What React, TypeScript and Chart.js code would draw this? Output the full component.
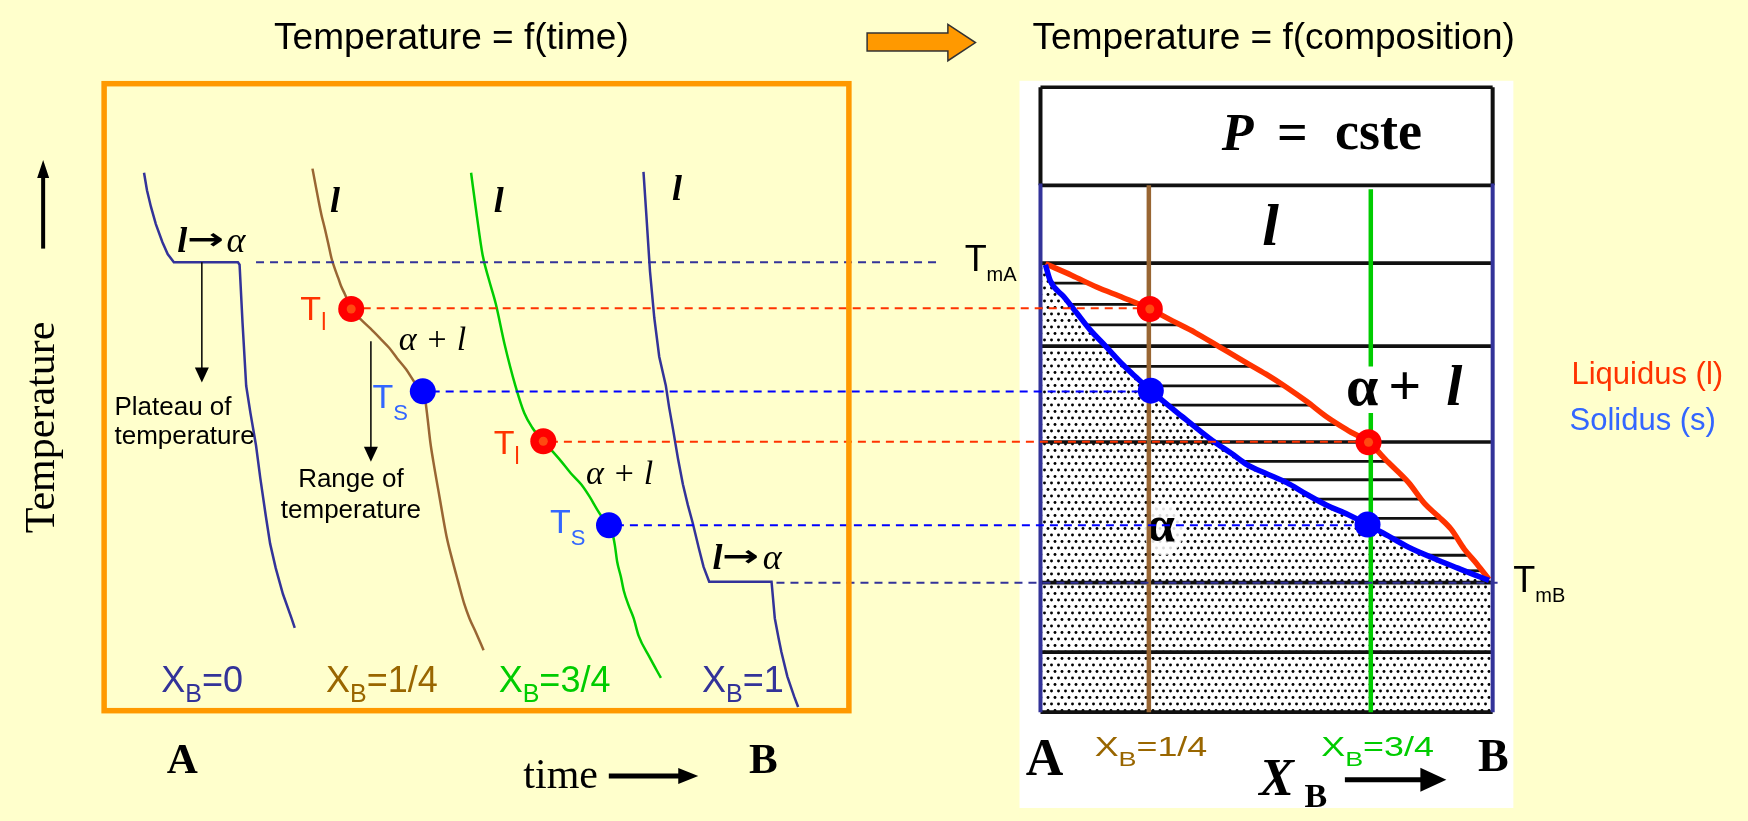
import React, { useEffect, useRef } from "react";
import { Chart, registerables } from "chart.js";

Chart.register(...registerables);

// ---------- DATA (drawing units: x = 0..1748, y = 0..821 downward) ----------
// Cooling curves, temperature = f(time)
const curveXB0_x = [133, 136, 140, 145, 151.7, 157, 163.3, 228.3, 230, 233, 236.7, 241, 246.7, 251, 256.7, 261, 266.7, 274, 282.7, 286];
const curveXB0_y = [165, 183, 200, 218, 236.7, 249, 257.3, 257.3, 260, 320, 385, 413, 446.7, 480, 520, 548, 573.3, 600, 625, 635];

const curveXB14_x = [304, 307, 310, 313, 316.7, 320, 323.3, 327, 330, 333, 336.7, 340, 343.3, 353.3, 363, 373.3, 382, 390, 399, 406.7, 411, 416, 418.3, 421, 423.6, 426.7, 433, 440, 446, 451.7, 458, 463.3, 470, 477.7];
const curveXB14_y = [160.7, 177, 193, 208, 223.3, 238, 253.3, 265, 273.3, 282, 290, 298, 305.7, 316.7, 326, 336.7, 346, 356.7, 368, 380, 386, 390.7, 398.3, 420, 443, 463.3, 500, 540, 565, 586.7, 610, 625, 640, 658];

const curveXB34_x = [465, 470.5, 476.7, 483, 490, 499, 510, 519, 527, 538.3, 547, 556.7, 566, 576.7, 585, 593.3, 599, 605, 608.3, 611, 613.3, 617, 620, 625, 630, 635, 646, 657.7];
const curveXB34_y = [165, 207, 250, 275, 300, 342, 385, 413, 428, 442.3, 452, 463.3, 475, 486.7, 499, 513.3, 522, 529, 536.7, 550, 566.7, 582, 596.7, 612, 625, 643, 665, 686.7];

const curveXB1_x = [640, 643, 646.6, 651, 656, 662.7, 666, 670, 675, 680, 685, 690, 696, 701, 706.7, 770, 773.3, 777, 780, 786, 793, 797];
const curveXB1_y = [164, 210, 266.7, 315, 355, 385, 407, 430, 460, 486.7, 508, 526.7, 552, 572, 587.3, 587.3, 625, 645, 660, 685, 706, 716.7];

// Phase diagram, temperature = f(composition)
const liquidus_x = [1048, 1075, 1100, 1127, 1154, 1177, 1200, 1225, 1250, 1272, 1293, 1313, 1333, 1355, 1376, 1396, 1416.7, 1433, 1447, 1460, 1473, 1486, 1498.3];
const liquidus_y = [259, 271, 283, 294, 305.7, 318, 330, 345, 360, 373, 386.7, 401, 416.7, 431, 443.3, 464, 485, 506.7, 520, 533.3, 553.3, 569, 585];

const solidus_x = [1048, 1053, 1066.7, 1080, 1093, 1110, 1126.7, 1141, 1155, 1170, 1186.7, 1203, 1220, 1237, 1253, 1273, 1293, 1313, 1333, 1355, 1375, 1396, 1416.7, 1442, 1466.7, 1483, 1498.3];
const solidus_y = [260, 276.7, 293, 310, 326.7, 345, 363.3, 377, 390, 403, 416.7, 430, 443.3, 455, 466.7, 476, 485, 497, 508, 518, 528.3, 540, 551.7, 563, 573.3, 580, 586];

// Transition points (T_l, T_s) on the cooling curves and on the phase diagram
const coolDots_x = [343.3, 416, 538.3, 605];
const coolDots_y = [305.7, 390.7, 442.3, 529];
const diagDots_x = [1154, 1155, 1376, 1375];
const diagDots_y = [305.7, 390, 443.3, 528.3];
const dotKind = ["l", "s", "l", "s"];

// Horizontal guide (dashed) lines linking the two panels
const guide_y = [257.3, 305, 391, 442.7, 529, 588.3];
const guide_x0 = [246.7, 355, 425, 545, 612, 775];
const guide_x1 = [940, 1154, 1155, 1376, 1375, 1507];
const guideKind = ["m", "l", "s", "l", "s", "m"];

// Phase-diagram frame
const frameRows_y = [76.7, 178, 258.3, 344, 443, 588.3, 660, 722];
const frame_x = [1043, 1502];
const tieLines_y = [279, 301, 322, 365, 385, 405, 425, 463, 482, 502, 522, 542, 560, 576];
const compLine_x = [1153, 1378.3];

// ---------- helpers ----------
const NAVY = "#333399";
const BROWN = "#996633";
const GREEN = "#00CC00";
const OCHRE = "#996600";
const RED = "#FF0000";
const REDOR = "#FF3300";
const BLUE = "#0000FF";
const LBLUE = "#3366FF";
const SANS = "'Liberation Sans', Arial, sans-serif";
const SERIF = "'Liberation Serif', 'Times New Roman', serif";

function pts(xs: number[], ys: number[]) {
  return xs.map((x, i) => ({ x, y: ys[i] }));
}

function interpX(xs: number[], ys: number[], y: number) {
  for (let i = 0; i < ys.length - 1; i++) {
    if (ys[i] <= y && y <= ys[i + 1]) {
      return xs[i] + ((xs[i + 1] - xs[i]) * (y - ys[i])) / (ys[i + 1] - ys[i] || 1);
    }
  }
  return xs[xs.length - 1];
}

function lineDs(data: { x: number; y: number }[], color: string, width: number, order: number, extra: any = {}) {
  return {
    data,
    showLine: true,
    borderColor: color,
    backgroundColor: color,
    borderWidth: width,
    pointRadius: 0,
    pointHoverRadius: 0,
    fill: false,
    tension: 0,
    order,
    ...extra,
  };
}

function makeStipple(): CanvasPattern | string {
  const c = document.createElement("canvas");
  c.width = 7;
  c.height = 13;
  const g = c.getContext("2d");
  if (!g) return "#cccccc";
  g.fillStyle = "#ffffff";
  g.fillRect(0, 0, 7, 13);
  g.fillStyle = "#000000";
  [
    [1.5, 2],
    [5, 8.5],
  ].forEach(([x, y]) => {
    g.beginPath();
    g.arc(x, y, 1.45, 0, Math.PI * 2);
    g.fill();
  });
  return g.createPattern(c, "repeat") || "#cccccc";
}

function txt(ctx: CanvasRenderingContext2D, s: string, x: number, y: number, font: string, color: string, align: CanvasTextAlign = "left", sx = 1) {
  ctx.save();
  ctx.font = font;
  ctx.fillStyle = color;
  ctx.textAlign = align;
  ctx.textBaseline = "alphabetic";
  ctx.translate(x, y);
  ctx.scale(sx, 1);
  ctx.fillText(s, 0, 0);
  ctx.restore();
}

function fitTxt(ctx: CanvasRenderingContext2D, s: string, x: number, y: number, font: string, color: string, width: number) {
  ctx.save();
  ctx.font = font;
  const w = ctx.measureText(s).width || 1;
  ctx.restore();
  txt(ctx, s, x, y, font, color, "left", width / w);
}

function run(ctx: CanvasRenderingContext2D, x: number, y: number, parts: [string, string, number][], color: string, sx = 1) {
  let cx = x;
  for (const [s, f, dy] of parts) {
    txt(ctx, s, cx, y + dy, f, color, "left", sx);
    ctx.save();
    ctx.font = f;
    cx += ctx.measureText(s).width * sx;
    ctx.restore();
  }
}

function arrow(ctx: CanvasRenderingContext2D, x0: number, y0: number, x1: number, y1: number, width: number, headLen: number, headHalf: number, color: string) {
  const ang = Math.atan2(y1 - y0, x1 - x0);
  const bx = x1 - Math.cos(ang) * headLen;
  const by = y1 - Math.sin(ang) * headLen;
  ctx.save();
  ctx.strokeStyle = color;
  ctx.fillStyle = color;
  ctx.lineWidth = width;
  ctx.beginPath();
  ctx.moveTo(x0, y0);
  ctx.lineTo(bx + Math.cos(ang) * 2, by + Math.sin(ang) * 2);
  ctx.stroke();
  ctx.beginPath();
  ctx.moveTo(x1, y1);
  ctx.lineTo(bx - Math.sin(ang) * headHalf, by + Math.cos(ang) * headHalf);
  ctx.lineTo(bx + Math.sin(ang) * headHalf, by - Math.cos(ang) * headHalf);
  ctx.closePath();
  ctx.fill();
  ctx.restore();
}

const decorPlugin = {
  id: "decor",
  beforeDraw(chart: any) {
    const ctx = chart.ctx as CanvasRenderingContext2D;
    ctx.save();
    ctx.fillStyle = "#FFFFCC";
    ctx.fillRect(0, 0, chart.width, chart.height);
    ctx.restore();
  },
  beforeDatasetsDraw(chart: any) {
    const ctx = chart.ctx as CanvasRenderingContext2D;
    const X = (v: number) => chart.scales.x.getPixelForValue(v);
    const Y = (v: number) => chart.scales.y.getPixelForValue(v);
    // white background of the phase-diagram figure
    ctx.save();
    ctx.fillStyle = "#FFFFFF";
    ctx.fillRect(X(1021.7), Y(70), X(1523) - X(1021.7), Y(821) - Y(70));
    ctx.restore();
  },
  afterDatasetDraw(chart: any, args: any) {
    // right after the stippled alpha region: clear patch and its "alpha" label
    if (args.index !== 0) return;
    const ctx = chart.ctx as CanvasRenderingContext2D;
    const X = (v: number) => chart.scales.x.getPixelForValue(v);
    const Y = (v: number) => chart.scales.y.getPixelForValue(v);
    ctx.save();
    ctx.fillStyle = "rgba(255,255,255,0.85)";
    ctx.beginPath();
    ctx.ellipse(X(1168), Y(534), 20, 25, 0, 0, Math.PI * 2);
    ctx.fill();
    ctx.restore();
    txt(ctx, "\u03B1", X(1151), Y(545), `bold 50px ${SERIF}`, "#000");
  },
  afterDatasetsDraw(chart: any) {
    const ctx = chart.ctx as CanvasRenderingContext2D;
    const X = (v: number) => chart.scales.x.getPixelForValue(v);
    const Y = (v: number) => chart.scales.y.getPixelForValue(v);

    // orange frame of the cooling-curve panel
    ctx.save();
    ctx.strokeStyle = "#FF9900";
    ctx.lineWidth = 5.5;
    ctx.strokeRect(X(92.5), Y(73), X(848.5) - X(92.5), Y(720.5) - Y(73));
    ctx.restore();

    // orange arrow between titles
    ctx.save();
    ctx.fillStyle = "#FF9900";
    ctx.strokeStyle = "#333333";
    ctx.lineWidth = 1.5;
    ctx.beginPath();
    ctx.moveTo(X(867), Y(20.7));
    ctx.lineTo(X(949), Y(20.7));
    ctx.lineTo(X(949), Y(11.7));
    ctx.lineTo(X(977), Y(30.5));
    ctx.lineTo(X(949), Y(49.3));
    ctx.lineTo(X(949), Y(39.3));
    ctx.lineTo(X(867), Y(39.3));
    ctx.closePath();
    ctx.fill();
    ctx.stroke();
    ctx.restore();

    // arrows
    arrow(ctx, X(30.6), Y(243.3), X(30.6), Y(151.7), 4, 18, 6, "#000");
    arrow(ctx, X(191.7), Y(257.3), X(191.7), Y(381.7), 1.5, 15, 7, "#000");
    arrow(ctx, X(363.3), Y(339), X(363.3), Y(463.3), 1.5, 15, 7, "#000");
    arrow(ctx, X(604.8), Y(788), X(695.6), Y(788), 5, 20, 8, "#000");
    arrow(ctx, X(1352), Y(791.7), X(1455), Y(791.7), 5, 26, 12, "#000");

    // titles
    txt(ctx, "Temperature = f(time)", X(265), Y(37), `37px ${SANS}`, "#000");
    txt(ctx, "Temperature = f(composition)", X(1035), Y(37), `37px ${SANS}`, "#000");

    // vertical axis title
    ctx.save();
    ctx.translate(X(42), Y(428));
    ctx.rotate(-Math.PI / 2);
    ctx.font = `42px ${SERIF}`;
    ctx.fillStyle = "#000";
    ctx.textAlign = "center";
    ctx.textBaseline = "alphabetic";
    ctx.fillText("Temperature", 0, 0);
    ctx.restore();

    // left panel labels
    const lBI = `italic bold 36px ${SERIF}`;
    txt(ctx, "l", X(321.7), Y(205), lBI, "#000");
    txt(ctx, "l", X(488), Y(205), lBI, "#000");
    txt(ctx, "l", X(669), Y(193), lBI, "#000");
    // l -> alpha
    txt(ctx, "l", X(166.7), Y(246.7), lBI, "#000");
    fitTxt(ctx, "\u2192", X(176.5), Y(244), `bold 30px 'DejaVu Sans', sans-serif`, "#000", X(214) - X(176.5));
    txt(ctx, "\u03B1", X(216.7), Y(246.7), `italic 36px ${SERIF}`, "#000");
    txt(ctx, "l", X(710), Y(574), lBI, "#000");
    fitTxt(ctx, "\u2192", X(719.5), Y(571.3), `bold 30px 'DejaVu Sans', sans-serif`, "#000", X(757) - X(719.5));
    txt(ctx, "\u03B1", X(761), Y(574), `italic 36px ${SERIF}`, "#000");
    // alpha + l
    txt(ctx, "\u03B1 + l", X(391.7), Y(348.3), `italic 34px ${SERIF}`, "#000");
    txt(ctx, "\u03B1 + l", X(581.7), Y(486.7), `italic 34px ${SERIF}`, "#000");

    // T_l, T_S
    run(ctx, X(291.7), Y(316.7), [["T", `34px ${SANS}`, 0], ["l", `23px ${SANS}`, 10]], REDOR);
    run(ctx, X(488), Y(455), [["T", `34px ${SANS}`, 0], ["l", `23px ${SANS}`, 10]], REDOR);
    run(ctx, X(365), Y(408), [["T", `34px ${SANS}`, 0], ["S", `22px ${SANS}`, 12]], LBLUE);
    run(ctx, X(545), Y(536.7), [["T", `34px ${SANS}`, 0], ["S", `22px ${SANS}`, 12]], LBLUE);

    // explanations
    txt(ctx, "Plateau of", X(103), Y(415), `26px ${SANS}`, "#000");
    txt(ctx, "temperature", X(103), Y(445), `26px ${SANS}`, "#000");
    txt(ctx, "Range of", X(343), Y(490), `26px ${SANS}`, "#000", "center");
    txt(ctx, "temperature", X(343), Y(521.7), `26px ${SANS}`, "#000", "center");

    // composition labels (left panel)
    const big = `36px ${SANS}`;
    const sub = `25px ${SANS}`;
    run(ctx, X(150.5), Y(701), [["X", big, 0], ["B", sub, 10], ["=0", big, 0]], NAVY);
    run(ctx, X(317.7), Y(701), [["X", big, 0], ["B", sub, 10], ["=1/4", big, 0]], OCHRE);
    run(ctx, X(493), Y(701), [["X", big, 0], ["B", sub, 10], ["=3/4", big, 0]], GREEN);
    run(ctx, X(699.5), Y(701), [["X", big, 0], ["B", sub, 10], ["=1", big, 0]], NAVY);

    txt(ctx, "A", X(156), Y(785), `bold 43px ${SERIF}`, "#000");
    txt(ctx, "B", X(747), Y(785), `bold 43px ${SERIF}`, "#000");
    txt(ctx, "time", X(518), Y(800), `42px ${SERIF}`, "#000");

    // right panel labels
    run(ctx, X(966), Y(266.7), [["T", `36px ${SANS}`, 0], ["mA", `20px ${SANS}`, 10]], "#000");
    run(ctx, X(1523), Y(598), [["T", `36px ${SANS}`, 0], ["mB", `20px ${SANS}`, 10]], "#000");

    txt(ctx, "P", X(1227), Y(141), `italic bold 52px ${SERIF}`, "#000");
    txt(ctx, "=", X(1283), Y(141), `bold 54px ${SERIF}`, "#000");
    txt(ctx, "cste", X(1342), Y(140), `bold 54px ${SERIF}`, "#000");
    txt(ctx, "l", X(1268), Y(240), `italic bold 60px ${SERIF}`, "#000");
    txt(ctx, "\u03B1", X(1353), Y(405), `bold 58px ${SERIF}`, "#000");
    txt(ctx, "+", X(1396), Y(405), `bold 58px ${SERIF}`, "#000");
    txt(ctx, "l", X(1455), Y(405), `italic bold 58px ${SERIF}`, "#000");

    txt(ctx, "Liquidus (l)", X(1582), Y(383), `31px ${SANS}`, REDOR);
    txt(ctx, "Solidus (s)", X(1580), Y(431), `31px ${SANS}`, LBLUE);

    const rb = `28px ${SANS}`;
    const rs = `21px ${SANS}`;
    run(ctx, X(1098), Y(767), [["X", rb, 0], ["B", rs, 10], ["=1/4", rb, 0]], OCHRE, 1.28);
    run(ctx, X(1328), Y(767), [["X", rb, 0], ["B", rs, 10], ["=3/4", rb, 0]], GREEN, 1.28);

    txt(ctx, "A", X(1028), Y(787), `bold 52px ${SERIF}`, "#000");
    txt(ctx, "B", X(1487), Y(783), `bold 46px ${SERIF}`, "#000");
    txt(ctx, "X", X(1265), Y(808), `italic bold 52px ${SERIF}`, "#000");
    txt(ctx, "B", X(1311), Y(820), `bold 34px ${SERIF}`, "#000");
  },
};

export default function App() {
  const ref = useRef<HTMLCanvasElement | null>(null);

  useEffect(() => {
    document.documentElement.style.margin = "0";
    document.body.style.margin = "0";
    document.body.style.overflow = "hidden";
    const canvas = ref.current;
    if (!canvas) return;

    const datasets: any[] = [];

    // stippled alpha region (below solidus) -- must stay dataset index 0
    const stipple = makeStipple();
    const alphaRegion = [
      { x: frame_x[0] + 2, y: solidus_y[0] },
      ...pts(solidus_x, solidus_y),
      { x: frame_x[1] - 2, y: solidus_y[solidus_y.length - 1] },
      { x: frame_x[1] - 2, y: frameRows_y[frameRows_y.length - 1] },
      { x: frame_x[0] + 2, y: frameRows_y[frameRows_y.length - 1] },
    ];
    datasets.push(lineDs(alphaRegion, "rgba(0,0,0,0)", 0, 100, { fill: "shape", backgroundColor: stipple }));

    // tie lines in the two-phase region
    tieLines_y.forEach((y) => {
      const xa = interpX(solidus_x, solidus_y, y);
      const xb = interpX(liquidus_x, liquidus_y, y);
      datasets.push(lineDs([{ x: xa, y }, { x: xb, y }], "#111111", 2.8, 90));
    });

    // frame rows
    frameRows_y.forEach((y) => {
      datasets.push(lineDs([{ x: frame_x[0], y }, { x: frame_x[1], y }], "#111111", 3.6, 80));
    });
    // frame sides: black above the liquid row, navy below
    frame_x.forEach((x) => {
      datasets.push(lineDs([{ x, y: frameRows_y[0] }, { x, y: frameRows_y[1] }], "#111111", 4, 75));
      datasets.push(lineDs([{ x, y: frameRows_y[1] - 2 }, { x, y: frameRows_y[frameRows_y.length - 1] }], NAVY, 4, 74));
    });

    // composition verticals
    datasets.push(lineDs([{ x: compLine_x[0], y: frameRows_y[1] }, { x: compLine_x[0], y: frameRows_y[7] }], BROWN, 4.5, 70));
    datasets.push(lineDs([{ x: compLine_x[1], y: 182 }, { x: compLine_x[1], y: 365 }], GREEN, 4.5, 70));
    datasets.push(lineDs([{ x: compLine_x[1], y: 413 }, { x: compLine_x[1], y: frameRows_y[7] }], GREEN, 4.5, 70));

    // liquidus & solidus
    datasets.push(lineDs(pts(liquidus_x, liquidus_y), REDOR, 5.5, 60, { cubicInterpolationMode: "monotone" }));
    datasets.push(lineDs(pts(solidus_x, solidus_y), BLUE, 5.5, 59, { cubicInterpolationMode: "monotone" }));

    // cooling curves
    datasets.push(lineDs(pts(curveXB0_x, curveXB0_y), NAVY, 2.5, 50));
    datasets.push(lineDs(pts(curveXB14_x, curveXB14_y), BROWN, 2.5, 50, { cubicInterpolationMode: "monotone" }));
    datasets.push(lineDs(pts(curveXB34_x, curveXB34_y), GREEN, 2.5, 50, { cubicInterpolationMode: "monotone" }));
    datasets.push(lineDs(pts(curveXB1_x, curveXB1_y), NAVY, 2.5, 50));

    // dashed guides
    const guideColor: Record<string, string> = { m: NAVY, l: REDOR, s: BLUE };
    guide_y.forEach((y, i) => {
      datasets.push(
        lineDs([{ x: guide_x0[i], y }, { x: guide_x1[i], y }], guideColor[guideKind[i]], 2, 40, { borderDash: [8, 6] })
      );
    });

    // transition dots
    const dotColor = (k: string) => (k === "l" ? RED : BLUE);
    const allX = [...coolDots_x, ...diagDots_x];
    const allY = [...coolDots_y, ...diagDots_y];
    const allK = [...dotKind, ...dotKind];
    datasets.push({
      data: pts(allX, allY),
      showLine: false,
      pointRadius: 13,
      pointHoverRadius: 13,
      pointBorderWidth: 0,
      pointBackgroundColor: allK.map(dotColor),
      pointBorderColor: allK.map(dotColor),
      order: 20,
    });
    const innerX = allX.filter((_, i) => allK[i] === "l");
    const innerY = allY.filter((_, i) => allK[i] === "l");
    datasets.push({
      data: pts(innerX, innerY),
      showLine: false,
      pointRadius: 4.5,
      pointHoverRadius: 4.5,
      pointBorderWidth: 0,
      pointBackgroundColor: "#FF4A10",
      pointBorderColor: "#FF4A10",
      order: 10,
    });

    const chart = new Chart(canvas, {
      type: "scatter",
      data: { datasets },
      options: {
        animation: false,
        responsive: false,
        maintainAspectRatio: false,
        devicePixelRatio: 1,
        events: [],
        layout: { padding: 0 },
        plugins: { legend: { display: false }, tooltip: { enabled: false } },
        scales: {
          x: { type: "linear", min: 0, max: 1748, display: false },
          y: { type: "linear", min: 0, max: 821, reverse: true, display: false },
        },
      },
      plugins: [decorPlugin],
    } as any);

    return () => chart.destroy();
  }, []);

  return (
    <canvas
      ref={ref}
      width={1748}
      height={821}
      style={{ display: "block", position: "fixed", left: 0, top: 0 }}
    />
  );
}
